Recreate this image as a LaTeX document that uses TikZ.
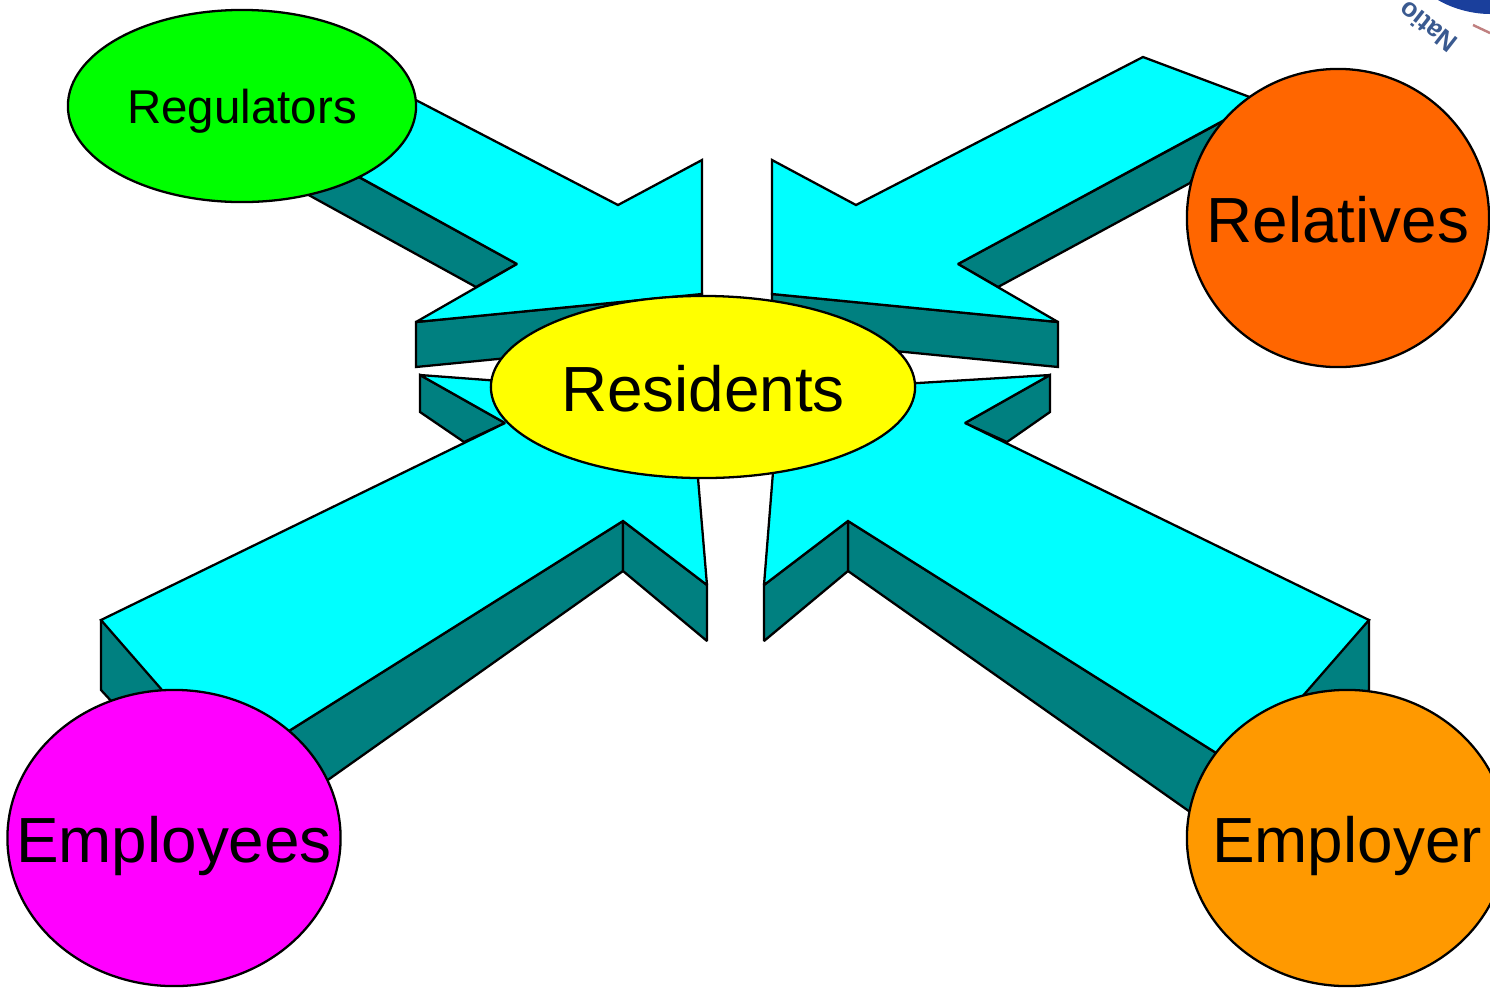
\documentclass[tikz,border=0pt]{standalone}
\usepackage{fontspec}
\setmainfont{Liberation Sans}
\usetikzlibrary{shapes.geometric}
\definecolor{arrowcyan}{HTML}{00FFFF}
\definecolor{darkteal}{HTML}{008080}
\definecolor{regreen}{HTML}{00FF00}
\definecolor{relorange}{HTML}{FF6600}
\definecolor{resyellow}{HTML}{FFFF00}
\definecolor{empmagenta}{HTML}{FF00FF}
\definecolor{emporange}{HTML}{FF9900}
\definecolor{logoblue}{HTML}{1A3F9C}
\definecolor{logotext}{HTML}{3A5A90}
\definecolor{logored}{HTML}{C08080}
% text sits on a fixed baseline, the shape keeps its own size
\newcommand{\partytext}[2]{\makebox[0pt]{\smash{\raisebox{-#1}{#2}}}}
\tikzset{
    top/.style={draw,fill=arrowcyan,line width=0.65pt,line join=miter,miter limit=2},
    side/.style={draw,fill=darkteal,line width=0.65pt,line join=miter,miter limit=2},
    party/.style={ellipse,draw,line width=0.65pt,inner sep=0pt,font=\fontsize{18.15pt}{20pt}\selectfont},
}
\begin{document}
\begin{tikzpicture}[x=0.01cm,y=-0.01cm]
        \useasboundingbox (0,0) rectangle (1490,987);

        % logo corner
        \fill[logoblue] (1438,0) .. controls (1455,10) and (1475,14) .. (1490,14) -- (1490,0) -- cycle;
        \draw[logored,line width=0.7pt] (1473,25) -- (1490,33);
        \node[rotate=142,text=logotext,font=\bfseries\fontsize{7.5pt}{9pt}\selectfont] (logo) at (1428,27) {Natio};

        % upper left arrow
        \draw[side] (355,175) -- (517,264) -- (476,287) -- (305,193) -- cycle;
        \draw[side] (416,322) -- (702,294) -- (702,339) -- (416,367) -- cycle;
        \draw[top] (410,97) -- (618,205) -- (702,160) -- (702,294) -- (416,322) -- (517,264) -- (350,172) -- cycle;

        % upper right arrow
        \draw[side] (1225,120) -- (958,264) -- (998,287) -- (1190,183) -- cycle;
        \draw[side] (772,294) -- (1058,322) -- (1058,367) -- (772,339) -- cycle;
        \draw[top] (1255,99) -- (1143,57) -- (856,205) -- (772,160) -- (772,294) -- (1058,322) -- (958,264) -- (1230,117) -- cycle;

        % lower left arrow
        \draw[side] (101,620) -- (101,690) -- (125,716) -- (180,700) -- cycle;
        \draw[side] (420,375) -- (505,423) -- (464,442) -- (420,412) -- cycle;
        \draw[side] (623,521) -- (623,571) -- (260,828) -- (230,768) -- cycle;
        \draw[side] (623,521) -- (707,585) -- (707,641) -- (623,571) -- cycle;
        \draw[top] (101,620) -- (505,423) -- (420,375) -- (702,396) -- (698,478) -- (707,585) -- (623,521) -- (230,768) -- cycle;

        % lower right arrow
        \draw[side] (1369,620) -- (1369,690) -- (1345,716) -- (1290,700) -- cycle;
        \draw[side] (1050,375) -- (965,423) -- (1007,442) -- (1050,412) -- cycle;
        \draw[side] (848,521) -- (848,571) -- (1210,826) -- (1240,768) -- cycle;
        \draw[side] (848,521) -- (764,585) -- (764,641) -- (848,571) -- cycle;
        \draw[top] (1369,620) -- (965,423) -- (1050,375) -- (770,392) -- (773,472) -- (764,585) -- (848,521) -- (1240,768) -- cycle;

        \node[party,fill=regreen,minimum width=3.48cm,minimum height=1.92cm,font=\fontsize{13.5pt}{15pt}\selectfont] (regulators) at (242,106) {\partytext{0.17cm}{Regulators}};
        \node[party,fill=relorange,minimum width=3.02cm,minimum height=2.98cm] (relatives) at (1338,218) {\partytext{0.24cm}{Relatives}};
        \node[party,fill=resyellow,minimum width=4.24cm,minimum height=1.82cm] (residents) at (703,387) {\partytext{0.24cm}{Residents}};
        \node[party,fill=empmagenta,minimum width=3.33cm,minimum height=2.96cm] (employees) at (174,838) {\partytext{0.24cm}{Employees}};
        \node[party,fill=emporange,minimum width=3.2cm,minimum height=2.96cm] (employer) at (1347,838) {\partytext{0.24cm}{Employer}};
\end{tikzpicture}
\end{document}
